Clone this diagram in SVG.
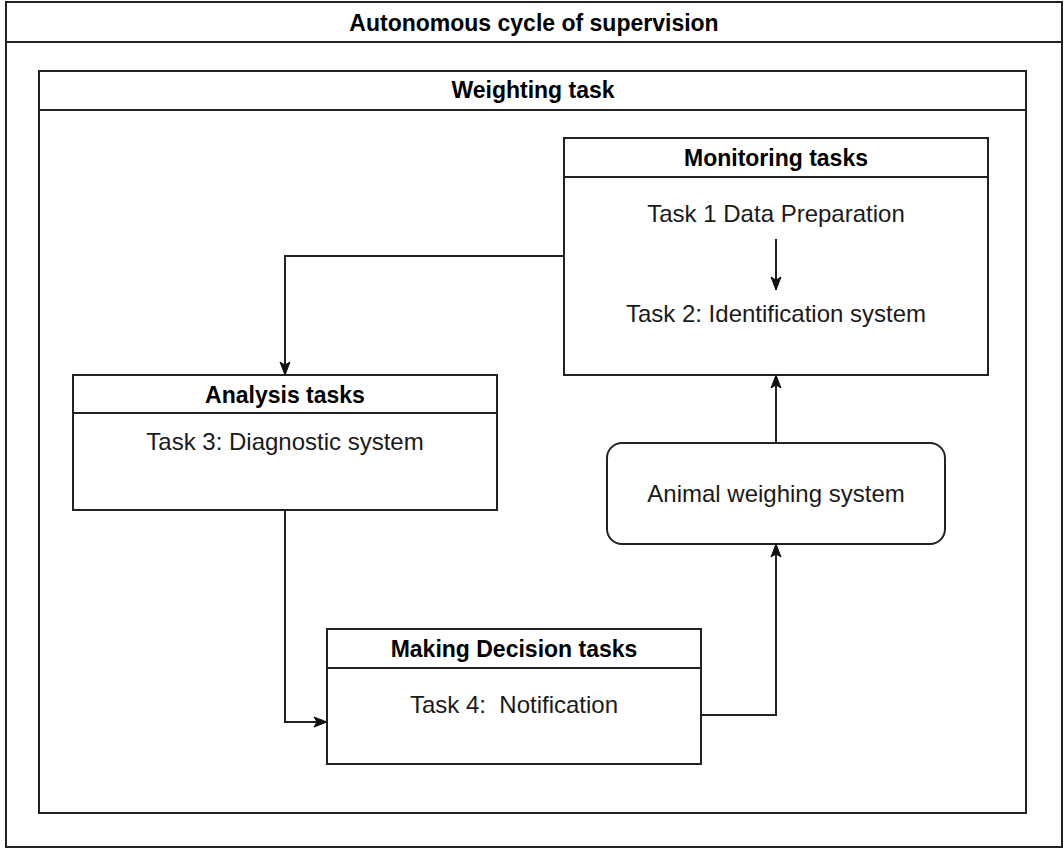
<svg xmlns="http://www.w3.org/2000/svg" width="1064" height="848" viewBox="0 0 1064 848">
  <style>
    .box { fill: #ffffff; stroke: #222222; stroke-width: 2; }
    .sep { stroke: #222222; stroke-width: 2; fill: none; }
    .title { font-family: "Liberation Sans", Arial, Helvetica, sans-serif; font-size: 23px; font-weight: bold; fill: #000000; text-anchor: middle; }
    .body { font-family: "Liberation Sans", Arial, Helvetica, sans-serif; font-size: 24px; fill: #1a1a1a; text-anchor: middle; white-space: pre; }
    .edge { fill: none; stroke: #222222; stroke-width: 2; }
  </style>
  <defs>
    <marker id="arrow" markerUnits="userSpaceOnUse" markerWidth="16" markerHeight="16" viewBox="0 0 16 16" refX="14" refY="8" orient="auto">
      <path d="M1,3 L14,8 L1,13 L4,8 Z" fill="#111111" stroke="#111111" stroke-width="1"/>
    </marker>
  </defs>

  <rect x="0" y="0" width="1064" height="848" fill="#ffffff"/>

  <!-- outer container -->
  <g id="autonomous-cycle">
    <rect class="box" x="6" y="2" width="1056" height="845"/>
    <line class="sep" x1="6" y1="42" x2="1062" y2="42"/>
    <text class="title" x="534" y="31">Autonomous cycle of supervision</text>
  </g>

  <!-- weighting task container -->
  <g id="weighting-task">
    <rect class="box" x="39" y="71" width="987" height="742"/>
    <line class="sep" x1="39" y1="110" x2="1026" y2="110"/>
    <text class="title" x="533" y="98">Weighting task</text>
  </g>

  <g id="monitoring-tasks">
    <rect class="box" x="564" y="138" width="424" height="237"/>
    <line class="sep" x1="564" y1="177" x2="988" y2="177"/>
    <text class="title" x="776" y="166">Monitoring tasks</text>
    <text class="body" x="776" y="222">Task 1 Data Preparation</text>
    <line class="edge" x1="776" y1="239" x2="776" y2="290" marker-end="url(#arrow)"/>
    <text class="body" x="776" y="322">Task 2: Identification system</text>
  </g>

  <g id="analysis-tasks">
    <rect class="box" x="73" y="375" width="424" height="135"/>
    <line class="sep" x1="73" y1="413" x2="497" y2="413"/>
    <text class="title" x="285" y="403">Analysis tasks</text>
    <text class="body" x="285" y="450">Task 3: Diagnostic system</text>
  </g>

  <g id="making-decision-tasks">
    <rect class="box" x="327" y="629" width="374" height="135"/>
    <line class="sep" x1="327" y1="668" x2="701" y2="668"/>
    <text class="title" x="514" y="657">Making Decision tasks</text>
    <text class="body" x="514" y="713" xml:space="preserve">Task 4:  Notification</text>
  </g>

  <g id="animal-weighing-system">
    <rect class="box" x="607" y="443" width="338" height="101" rx="15" ry="15"/>
    <text class="body" x="776" y="502">Animal weighing system</text>
  </g>

  <g id="connectors">
    <polyline class="edge" points="564,256 285,256 285,375" marker-end="url(#arrow)"/>
    <polyline class="edge" points="285,510 285,722 327,722" marker-end="url(#arrow)"/>
    <polyline class="edge" points="701,715 776,715 776,544" marker-end="url(#arrow)"/>
    <line class="edge" x1="776" y1="443" x2="776" y2="375" marker-end="url(#arrow)"/>
  </g>
</svg>
